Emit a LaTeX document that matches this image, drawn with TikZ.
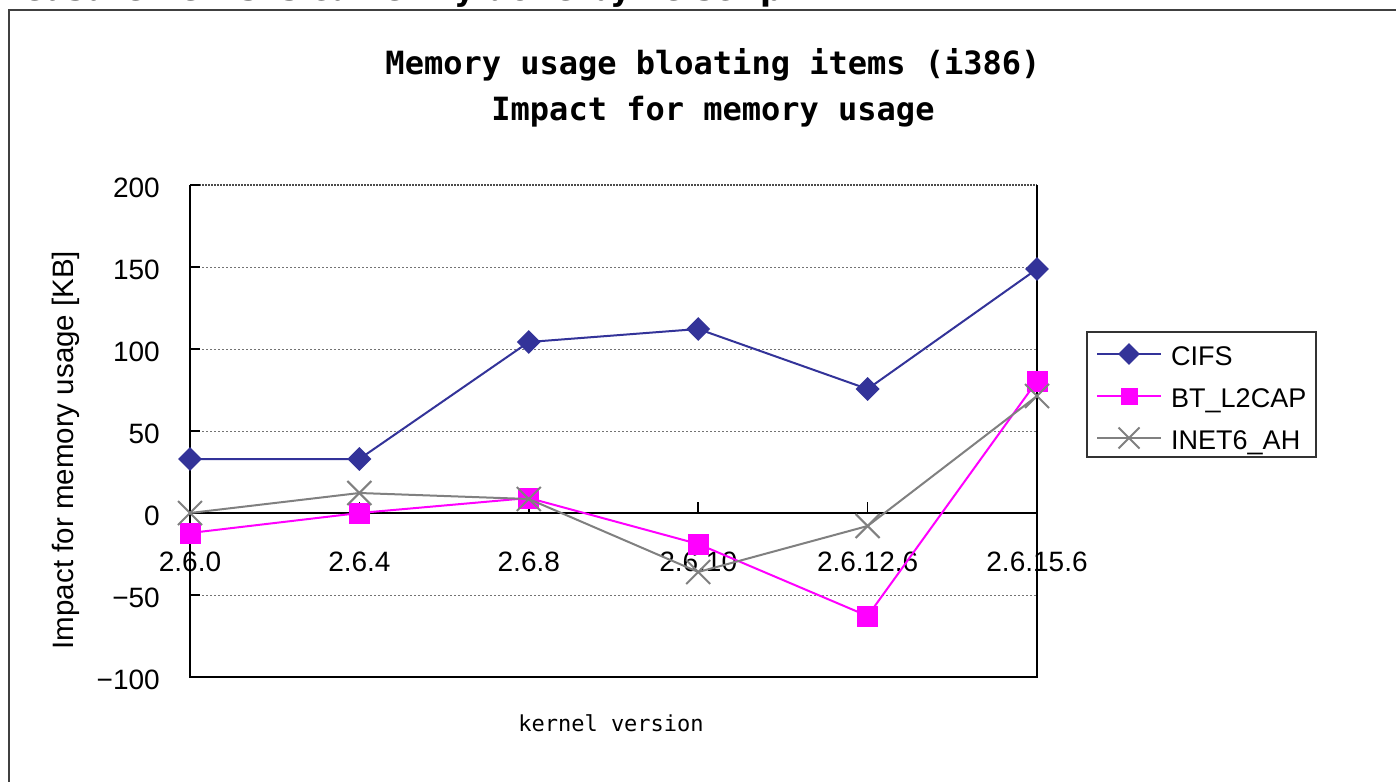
\documentclass[tikz,border=0pt]{standalone}
\usepackage{fontspec}
\setmainfont{Liberation Sans}
\newfontfamily\titlefont{DejaVu Sans Mono}
\newfontfamily\labmonofont{DejaVu Sans Mono}
\newfontfamily\topfont{DejaVu Sans}
\usetikzlibrary{shapes.geometric,shapes.misc}
\definecolor{cifsc}{RGB}{51,51,153}
\definecolor{btc}{RGB}{255,0,255}
\definecolor{inetc}{RGB}{128,128,128}
\newcommand\setfs[1]{\fontsize{#1}{#1}\selectfont}
\tikzset{
  gridline/.style={draw=black!55, line width=1, dash pattern=on 2 off 2},
  axisline/.style={draw=black, line width=1.6},
  ticklab/.style={font=\setfs{28}, inner sep=0},
  cifsline/.style={draw=cifsc, line width=2},
  btline/.style={draw=btc, line width=2},
  inetline/.style={draw=inetc, line width=2},
  cifsmark/.style={diamond, fill=cifsc, inner sep=0, minimum width=#1, minimum height=#1},
  btmark/.style={rectangle, fill=btc, inner sep=0, minimum width=#1, minimum height=#1},
  inetmark/.style={cross out, draw=inetc, line width=2, inner sep=0, minimum width=#1, minimum height=#1},
  legtext/.style={font=\setfs{27}, anchor=base west, inner sep=0},
}
\begin{document}
\begin{tikzpicture}[x=1pt,y=-1pt]
\useasboundingbox (0,0) rectangle (1396,781);
\clip (0,0) rectangle (1396,781);
\fill[white] (0,0) rectangle (1396,781);
% cut-off text at the very top
\node[font=\topfont\bfseries\setfs{32}, anchor=base west, inner sep=0] (toptext) at (-10,1) {measurements is currently done by ve script};
% outer chart frame
\draw[line width=2, draw=black!75] (9,800) -- (9,10) -- (1420,10);
% titles
\node[font=\titlefont\bfseries\setfs{32}, anchor=base, inner sep=0] (title1) at (713,75) {Memory usage bloating items (i386)};
\node[font=\titlefont\bfseries\setfs{32}, anchor=base, inner sep=0] (title2) at (713,121) {Impact for memory usage};
% grid
\draw[gridline] (190,267) -- (1037,267);
\draw[gridline] (190,349) -- (1037,349);
\draw[gridline] (190,431) -- (1037,431);
\draw[gridline] (190,595) -- (1037,595);
\draw[draw=black!70, line width=1.6, dash pattern=on 2 off 1] (190,185) -- (1037,185);
% plot frame
\draw[axisline] (190,185) -- (190,677) -- (1037,677) -- (1037,185);
% zero axis
\draw[axisline] (190,513) -- (1037,513);
% y ticks
\foreach \yy in {185,267,349,431,513,595,677} \draw[axisline] (190,\yy) -- (200,\yy);
% x ticks
\foreach \xx in {359.4,528.8,698.2,867.6} \draw[axisline] (\xx,513) -- (\xx,502);
% y tick labels
\node[ticklab, anchor=base east] (y200) at (160,197) {200};
\node[ticklab, anchor=base east] (y150) at (160,279) {150};
\node[ticklab, anchor=base east] (y100) at (160,361) {100};
\node[ticklab, anchor=base east] (y50) at (160,443) {50};
\node[ticklab, anchor=base east] (y0) at (160,525) {0};
\node[ticklab, anchor=base east] (ym50) at (160,607) {−50};
\node[ticklab, anchor=base east] (ym100) at (160,689) {−100};
% x tick labels
\node[ticklab, anchor=base] (x1) at (190,571) {2.6.0};
\node[ticklab, anchor=base] (x2) at (359.4,571) {2.6.4};
\node[ticklab, anchor=base] (x3) at (528.8,571) {2.6.8};
\node[ticklab, anchor=base] (x4) at (698.2,571) {2.6.10};
\node[ticklab, anchor=base] (x5) at (867.6,571) {2.6.12.6};
\node[ticklab, anchor=base] (x6) at (1037,571) {2.6.15.6};
% axis titles
\node[font=\setfs{29.5}, rotate=90, anchor=base, inner sep=0] (ylab) at (73,450) {Impact for memory usage [KB]};
\node[font=\labmonofont\setfs{22}, anchor=base, inner sep=0] (xlab) at (611,731) {kernel version};
% data points
\coordinate (c1) at (190,459);
\coordinate (c2) at (359.4,459);
\coordinate (c3) at (528.8,342);
\coordinate (c4) at (698.2,329);
\coordinate (c5) at (867.6,389);
\coordinate (c6) at (1037,269);
\coordinate (b1) at (190,533);
\coordinate (b2) at (359.4,513);
\coordinate (b3) at (528.8,498);
\coordinate (b4) at (698.2,544);
\coordinate (b5) at (867.6,616);
\coordinate (b6) at (1037,381);
\coordinate (n1) at (190,513);
\coordinate (n2) at (359.4,493);
\coordinate (n3) at (528.8,499);
\coordinate (n4) at (698.2,572);
\coordinate (n5) at (867.6,526);
\coordinate (n6) at (1037,396);
% CIFS
\draw[cifsline] (c1) -- (c2) -- (c3) -- (c4) -- (c5) -- (c6);
\foreach \p in {c1,c2,c3,c4,c5,c6} \node[cifsmark=24] (m\p) at (\p) {};
% BT_L2CAP
\draw[btline] (b1) -- (b2) -- (b3) -- (b4) -- (b5) -- (b6);
\foreach \p in {b1,b2,b3,b4,b5,b6} \node[btmark=21] (m\p) at (\p) {};
% INET6_AH
\draw[inetline] (n1) -- (n2) -- (n3) -- (n4) -- (n5) -- (n6);
\foreach \p in {n1,n2,n3,n4,n5,n6} \node[inetmark=22] (m\p) at (\p) {};
% legend
\node[draw=black!80, line width=1.2, minimum width=229, minimum height=125, inner sep=0] (legend) at (1201.5,394.5) {};
\coordinate (lc1) at (1097,354); \coordinate (lc2) at (1161,354);
\coordinate (lb1) at (1097,396); \coordinate (lb2) at (1161,396);
\coordinate (ln1) at (1097,438); \coordinate (ln2) at (1161,438);
\draw[cifsline] (lc1) -- (lc2);
\node[cifsmark=22] (lcm) at (1129,354) {};
\draw[btline] (lb1) -- (lb2);
\node[btmark=17] (lbm) at (1129,396) {};
\draw[inetline] (ln1) -- (ln2);
\node[inetmark=19] (lnm) at (1129,438) {};
\node[legtext] (lct) at (1171,365) {CIFS};
\node[legtext] (lbt) at (1171,407) {BT\_L2CAP};
\node[legtext] (lnt) at (1171,449) {INET6\_AH};
\end{tikzpicture}
\end{document}
